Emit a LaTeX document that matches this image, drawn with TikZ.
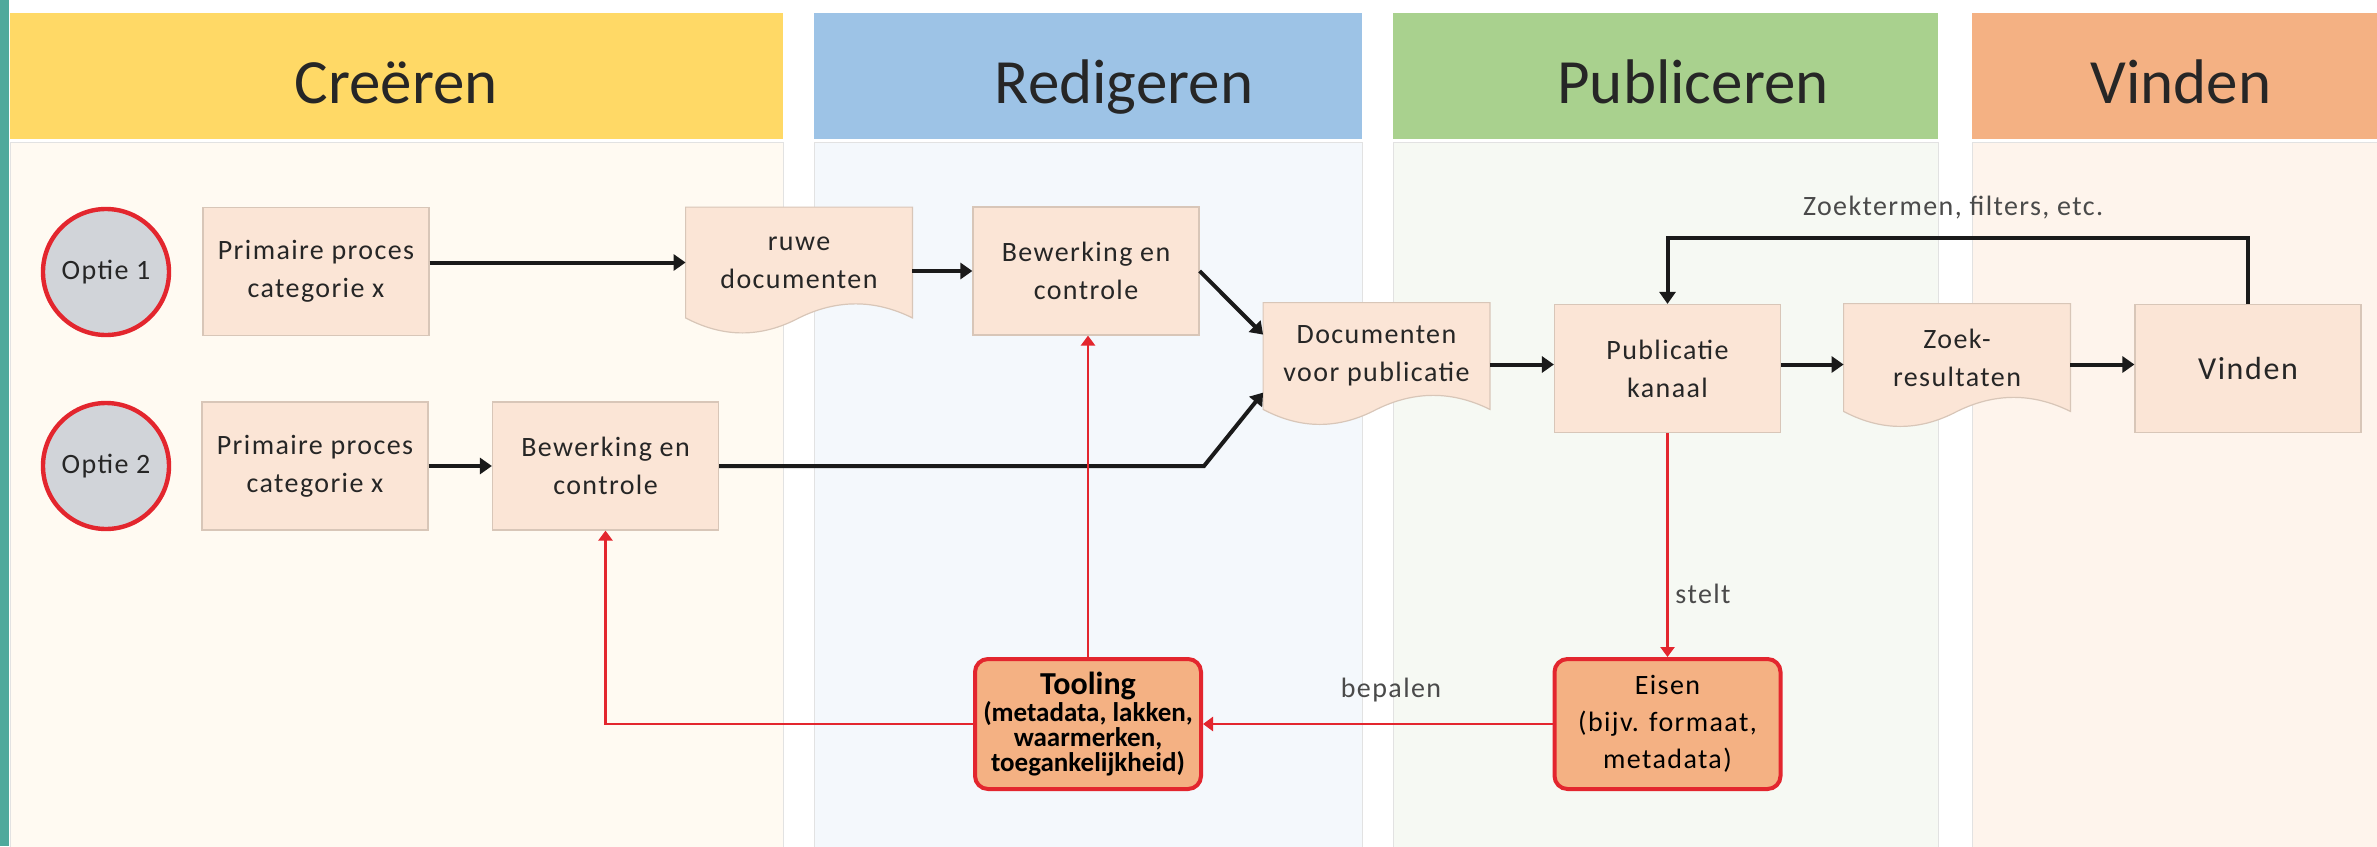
\documentclass[tikz,border=0pt]{standalone}
\usepackage{fontspec}
\setmainfont{Carlito}
\newfontfamily\spaced{Carlito}[LetterSpace=5]
\usetikzlibrary{arrows.meta,calc,backgrounds}
\definecolor{cTeal}{HTML}{4FA99C}
\definecolor{cHY}{HTML}{FFD966}
\definecolor{cHB}{HTML}{9DC3E6}
\definecolor{cHG}{HTML}{A9D18E}
\definecolor{cHO}{HTML}{F4B183}
\definecolor{cBY}{HTML}{FFFAF2}
\definecolor{cBB}{HTML}{F4F8FC}
\definecolor{cBG}{HTML}{F6F9F3}
\definecolor{cBO}{HTML}{FEF4EC}
\definecolor{cEdge}{HTML}{E2E2E2}
\definecolor{cBox}{HTML}{FBE5D6}
\definecolor{cBoxLine}{HTML}{D8C6B8}
\definecolor{cCircle}{HTML}{D1D4D9}
\definecolor{cRed}{HTML}{E3262E}
\definecolor{cOrange}{HTML}{F4B183}
\definecolor{cText}{HTML}{262626}
\definecolor{cLabel}{HTML}{4A4A4A}
\definecolor{cArrow}{HTML}{1A1A1A}
\tikzset{
  proc/.style={draw=cBoxLine, line width=0.6pt, fill=cBox, minimum width=113pt,
    minimum height=64pt, inner sep=0pt, align=center, text=cText,
    font=\spaced\fontsize{14}{19}\selectfont},
  docnode/.style={minimum width=113pt, minimum height=55pt, inner sep=0pt,
    align=center, text=cText, font=\spaced\fontsize{14}{19}\selectfont},
  docshape/.style={fill=cBox, draw=cBoxLine, line width=0.6pt},
  opt/.style={circle, draw=cRed, line width=2.2pt, fill=cCircle, minimum size=63pt,
    inner sep=0pt, text=cText, font=\spaced\fontsize{14}{17}\selectfont},
  req/.style={rounded corners=6.5pt, draw=cRed, line width=2pt, fill=cOrange,
    minimum width=113pt, minimum height=65pt, inner sep=0pt, align=center, text=black},
  hdr/.style={font=\fontsize{31.5}{36}\selectfont, text=cText, anchor=base},
  lbl/.style={font=\spaced\fontsize{14}{17}\selectfont, text=cLabel},
  blk/.style={draw=cArrow, line width=2pt, -{Triangle[length=6pt,width=8pt]}},
  redl/.style={draw=cRed, line width=1.3pt, -{Triangle[length=5pt,width=7pt]}}
}
\newcommand\docoutline[1]{%
  \path[docshape] (#1.north west) -- (#1.north east) -- (#1.south east)
    .. controls ($(#1.south east)!0.1667!(#1.south west)+(0,-18.7)$)
            and ($(#1.south east)!0.3333!(#1.south west)+(0,-18.7)$)
    .. ($(#1.south east)!0.5!(#1.south west)$)
    .. controls ($(#1.south east)!0.6667!(#1.south west)+(0,20)$)
            and ($(#1.south east)!0.8333!(#1.south west)+(0,20)$)
    .. (#1.south west) -- cycle;}
\begin{document}
\begin{tikzpicture}[x=0.5pt,y=-0.5pt]
\useasboundingbox (0,0) rectangle (2377,846);
\begin{scope}[on background layer]
  \fill[white] (0,0) rectangle (2377,846);
  \fill[cTeal] (0,0) rectangle (9,846);
  \fill[cHY] (10,13) rectangle (783,139);
  \fill[cHB] (814,13) rectangle (1362,139);
  \fill[cHG] (1393,13) rectangle (1938,139);
  \fill[cHO] (1972,13) rectangle (2377,139);
  \filldraw[fill=cBY, draw=cEdge, line width=0.5pt] (10,142) rectangle (783,850);
  \filldraw[fill=cBB, draw=cEdge, line width=0.5pt] (814,142) rectangle (1362,850);
  \filldraw[fill=cBG, draw=cEdge, line width=0.5pt] (1393,142) rectangle (1938,850);
  \filldraw[fill=cBO, draw=cEdge, line width=0.5pt] (1972,142) rectangle (2380,850);
\end{scope}
% headers
\node[hdr] (hc) at (396,103) {Creëren};
\node[hdr] (hr) at (1124,103) {Redigeren};
\node[hdr] (hp) at (1693,103) {Publiceren};
\node[hdr] (hv) at (2181,103) {Vinden};
% nodes
\node[opt] (o1) at (106,272) {Optie 1};
\node[opt] (o2) at (106,466) {Optie 2};
\node[proc] (p1) at (316,271.5) {Primaire proces\\categorie x};
\node[proc] (p2) at (315,466) {Primaire proces\\categorie x};
\node[proc] (b2) at (605.5,466) {Bewerking en\\controle};
\node[docnode] (ruwe) at (799,262.5) {ruwe\\documenten};
\node[proc] (b1) at (1086,271) {Bewerking en\\controle};
\node[docnode, minimum height=53pt] (doc2) at (1376.5,356) {Documenten\\voor publicatie};
\node[proc] (pub) at (1667.5,368.5) {Publicatie\\kanaal};
\node[docnode, minimum height=53.5pt] (zoek) at (1957,357.5) {Zoek-\\resultaten};
\node[proc, font=\spaced\fontsize{16}{19}\selectfont] (vind) at (2248,368.5) {Vinden};
\node[req, font=\bfseries\fontsize{13.5}{12.5}\selectfont] (tool) at (1088,724)
  {{\fontsize{16}{12.5}\selectfont Tooling}\\(metadata, lakken,\\waarmerken,\\toegankelijkheid)};
\node[req, font=\spaced\fontsize{14}{18.5}\selectfont] (eisen) at (1667.5,724)
  {Eisen\\(bijv. formaat,\\metadata)};
\begin{scope}[on background layer]
  \docoutline{ruwe}
  \docoutline{doc2}
  \docoutline{zoek}
\end{scope}
% labels
\node[lbl] (lzoek) at (1953,208) {Zoektermen, filters, etc.};
\node[lbl] (lbep) at (1391,690) {bepalen};
\node[lbl] (lstelt) at (1703,594) {stelt};
% black connectors
\coordinate (bend) at (1204,466);
\draw[blk] (ruwe.west -| p1.east) -- (ruwe.west);
\draw[blk] (ruwe.east |- b1.west) -- (b1.west);
\draw[blk] (b1.east) -- ([yshift=-16pt]doc2.north west);
\draw[blk] (p2.east) -- (b2.west);
\draw[blk] (b2.east) -- (bend) -- ([yshift=-45pt]doc2.north west);
\draw[blk] ([yshift=2pt]pub.west -| doc2.east) -- ([yshift=2pt]pub.west);
\draw[blk] ([yshift=2pt]pub.east) -- ([yshift=2pt]pub.east -| zoek.west);
\draw[blk] ([yshift=2pt]vind.west -| zoek.east) -- ([yshift=2pt]vind.west);
\draw[blk] (vind.north) -- ++(0,-66) -| (pub.north);
% red connectors
\draw[redl] (pub.south) -- (eisen.north);
\draw[redl] (eisen.west) -- (tool.east);
\draw[redl] (tool.north) -- (tool.north |- b1.south);
\draw[redl] (tool.west) -| (b2.south);
\end{tikzpicture}
\end{document}
